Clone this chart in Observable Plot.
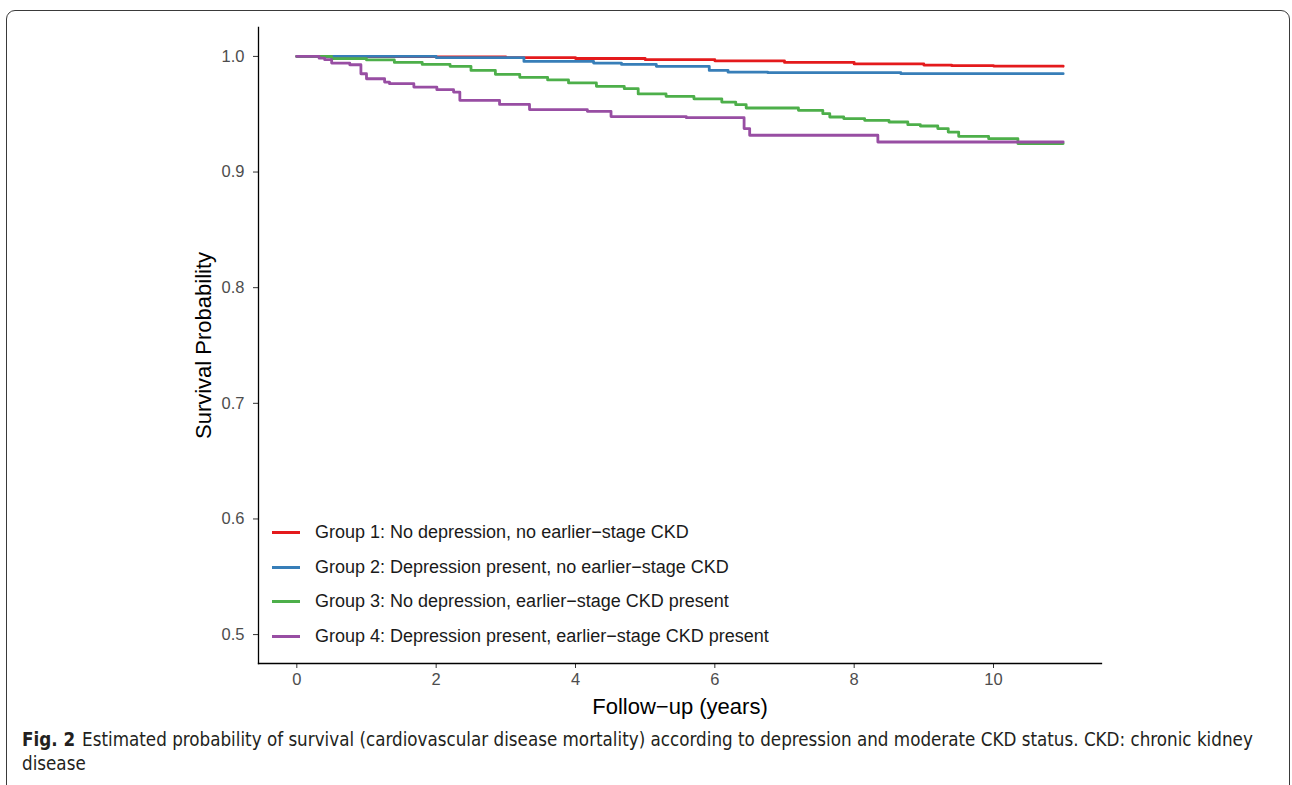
<!DOCTYPE html>
<html><head><meta charset="utf-8">
<script src="https://cdn.jsdelivr.net/npm/d3@7"></script>
<script src="https://cdn.jsdelivr.net/npm/@observablehq/plot@0.6"></script>
<style>
body{margin:0;background:#fff;width:1292px;height:785px;overflow:hidden;position:relative;font-family:"Liberation Sans",Arial,Helvetica,sans-serif}
#frame{position:absolute;left:6px;top:10px;width:1284px;height:800px;border:1px solid #3a3a3a;border-radius:9px;box-sizing:border-box}
#chart{position:absolute;left:0;top:0}
#chart svg [aria-label="y-axis tick label"] text,#chart svg [aria-label="x-axis tick label"] text{fill:#4d4d4d;font-size:16.5px}
#legend{position:absolute;left:272px;top:515px;font-size:18px;color:#1a1a1a}
#legend .row{height:34.7px;display:flex;align-items:center}
#legend .sw{width:28px;height:3px;margin-right:15px}
#caption{position:absolute;left:22px;top:728px;font-family:"DejaVu Sans Condensed","Open Sans",sans-serif;font-size:18.65px;line-height:24px;color:#231f20;white-space:nowrap}
#caption b{font-weight:bold;margin-right:7px}
</style></head>
<body>
<div id="frame"></div>
<div id="chart"></div>
<div id="legend"></div>
<div id="caption"><b>Fig. 2</b>Estimated probability of survival (cardiovascular disease mortality) according to depression and moderate CKD status. CKD: chronic kidney<br>disease</div>
<script>
const groups = [
  "Group 1: No depression, no earlier\u2212stage CKD",
  "Group 2: Depression present, no earlier\u2212stage CKD",
  "Group 3: No depression, earlier\u2212stage CKD present",
  "Group 4: Depression present, earlier\u2212stage CKD present"
];
const colors = ["#E41A1C", "#377EB8", "#4DAF4A", "#984EA3"];

const time1 = [0, 1.0, 2.0, 3.0, 4.0, 5.0, 6.0, 7.0, 8.0, 9.0, 9.4, 10.0, 11.0];
const surv1 = [1.0, 0.9998, 0.9995, 0.999, 0.9982, 0.9972, 0.9962, 0.9948, 0.9935, 0.9925, 0.992, 0.9916, 0.9914];

const time2 = [0, 2.0, 3.26, 4.26, 4.66, 5.16, 5.92, 6.19, 6.76, 8.67, 11.0];
const surv2 = [1.0, 0.999, 0.9957, 0.9942, 0.9931, 0.9914, 0.9879, 0.9864, 0.9859, 0.9851, 0.9851];

const time3 = [0, 0.5, 1.0, 1.4, 1.8, 2.2, 2.5, 2.85, 3.2, 3.6, 3.9, 4.3, 4.7, 4.9, 5.3, 5.7, 6.1, 6.3, 6.45, 7.2, 7.55, 7.65, 7.85, 8.15, 8.5, 8.77, 8.95, 9.2, 9.35, 9.5, 9.93, 10.35, 11.0];
const surv3 = [1.0, 0.998, 0.997, 0.9948, 0.9931, 0.9914, 0.9879, 0.9845, 0.9819, 0.9797, 0.9771, 0.9741, 0.9721, 0.9676, 0.9655, 0.9633, 0.9605, 0.9583, 0.9554, 0.9534, 0.9505, 0.9476, 0.9462, 0.9447, 0.9433, 0.941, 0.9398, 0.9376, 0.9346, 0.9309, 0.9289, 0.9246, 0.9246];

const time4 = [0, 0.32, 0.40, 0.50, 0.76, 0.92, 1.00, 1.26, 1.33, 1.68, 2.01, 2.25, 2.34, 2.91, 3.34, 4.17, 4.51, 5.59, 6.42, 6.50, 8.34, 11.0];
const surv4 = [1.0, 0.9985, 0.9972, 0.9942, 0.9928, 0.985, 0.9807, 0.9778, 0.9764, 0.9735, 0.9712, 0.9692, 0.962, 0.9585, 0.954, 0.9525, 0.948, 0.947, 0.9376, 0.9318, 0.926, 0.926];

const xTicks = [0, 2, 4, 6, 8, 10];
const yTicks = [0.5, 0.6, 0.7, 0.8, 0.9, 1.0];

const series = [[time1, surv1], [time2, surv2], [time3, surv3], [time4, surv4]];
const rows = series.flatMap(([t, s], i) => t.map((v, j) => ({group: groups[i], time: v, surv: s[j]})));

const chart = Plot.plot({
  width: 1292,
  height: 720,
  marginLeft: 258,
  marginRight: 191,
  marginTop: 27,
  marginBottom: 57,
  style: {fontFamily: "'Liberation Sans', Arial, sans-serif", background: "transparent"},
  x: {domain: [-0.55, 11.55]},
  y: {domain: [0.475, 1.025]},
  color: {domain: groups, range: colors},
  marks: [
    Plot.axisX({ticks: xTicks, tickSize: 5, tickPadding: 5, fontSize: 16.5, stroke: "#333", label: null}),
    Plot.axisX({ticks: [], label: "Follow\u2212up (years)", labelAnchor: "center", labelArrow: "none", labelOffset: 50, fontSize: 22, fill: "#000"}),
    Plot.axisY({ticks: yTicks, tickFormat: d3.format(".1f"), tickSize: 5, tickPadding: 9, fontSize: 16.5, stroke: "#333", label: null}),
    Plot.axisY({ticks: [], label: "Survival Probability", labelAnchor: "center", labelArrow: "none", labelOffset: 63, fontSize: 22, fill: "#000"}),
    Plot.line(rows, {x: "time", y: "surv", z: "group", stroke: "group", curve: "step-after", strokeWidth: 2.8}),
    Plot.frame({anchor: "left", stroke: "#000", strokeWidth: 1.3}),
    Plot.frame({anchor: "bottom", stroke: "#000", strokeWidth: 1.3})
  ]
});
document.getElementById("chart").appendChild(chart);

const legend = document.getElementById("legend");
groups.forEach((g, i) => {
  const row = document.createElement("div");
  row.className = "row";
  const sw = document.createElement("span");
  sw.className = "sw";
  sw.style.background = colors[i];
  const tx = document.createElement("span");
  tx.textContent = g;
  row.appendChild(sw);
  row.appendChild(tx);
  legend.appendChild(row);
});
</script>
</body></html>
